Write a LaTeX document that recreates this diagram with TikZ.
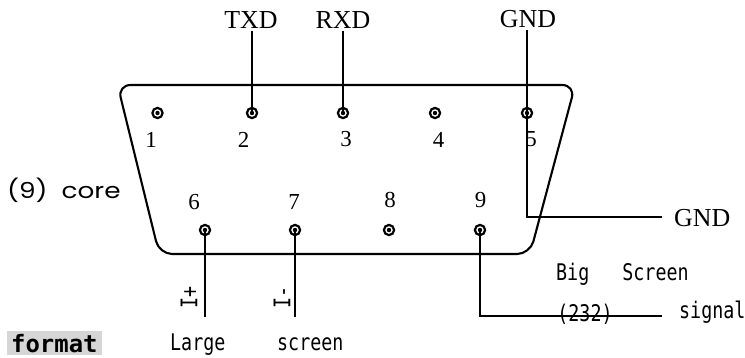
\documentclass[tikz,border=0pt]{standalone}
\usepackage{fontspec}
\setmainfont{Liberation Serif}
\newfontfamily\monof[FakeStretch=0.8]{DejaVu Sans Mono}
\newfontfamily\monoplain{DejaVu Sans Mono}
\newfontfamily\gothic[FakeStretch=1.2]{Poppins}
\begin{document}
\begin{tikzpicture}[x=1bp,y=-1bp,
  outline/.style={line width=2.1bp, rounded corners=13bp},
  wire/.style={line width=2.1bp},
  pinc/.style={circle, draw, line width=2.2bp, minimum size=10.2bp, inner sep=0pt,
    path picture={\fill (path picture bounding box.center) circle (2.2bp);}},
  lbl/.style={font=\fontsize{26}{28}\selectfont, inner sep=2bp},
  num/.style={font=\fontsize{23}{25}\selectfont, inner sep=0pt},
  mono/.style={font=\monof\fontsize{23}{25}\selectfont, inner sep=0pt},
  gothictext/.style={font=\gothic\fontsize{22}{24}\selectfont, inner sep=0pt},
  fmt/.style={font=\monoplain\bfseries\fontsize{24}{26}\selectfont, fill=black!16, inner xsep=4bp, inner ysep=3bp}
]
\useasboundingbox (0,0) rectangle (745,357);

% connector shell
\draw[outline] (117.6,85) -- (575.2,85) -- (530,254) -- (159.2,254) -- cycle;

% pins
\node[pinc] (p1) at (157.5,113) {};
\node[pinc] (p2) at (252,113) {};
\node[pinc] (p3) at (343,113) {};
\node[pinc] (p4) at (435,113) {};
\node[pinc] (p5) at (527,113) {};
\node[pinc] (p6) at (205,230) {};
\node[pinc] (p7) at (295,230) {};
\node[pinc] (p8) at (389,230) {};
\node[pinc] (p9) at (480,230) {};

% pin numbers
\node[num] (n1) at (151,139.5) {1};
\node[num] (n2) at (243.5,139.5) {2};
\node[num] (n3) at (346,139.5) {3};
\node[num] (n4) at (438.5,139.5) {4};
\node[num] (n5) at (531,139.5) {5};
\node[num] (n6) at (194,202) {6};
\node[num] (n7) at (294,202) {7};
\node[num] (n8) at (390,200) {8};
\node[num] (n9) at (480.5,200) {9};

% top labels
\node[lbl] (txd) at (251,20) {TXD};
\node[lbl] (rxd) at (343,20) {RXD};
\node[lbl] (gndt) at (528,19) {GND};
\node[lbl, anchor=base west, inner sep=0pt] (ptop) at (644,-5.5) {p};

% right labels
\node[lbl, anchor=west, inner sep=0pt] (gndr) at (674,218) {GND};
\node[mono, anchor=base west] (big) at (556,280) {Big\ \ \ Screen};
\node[mono] (n232) at (585,314) {(232)};
\node[mono, anchor=base west] (sig) at (679,318) {signal};

% bottom labels
\node[mono, rotate=90] (iplus) at (189,297) {I+};
\node[mono, rotate=90] (iminus) at (282,297) {I-};
\node[mono, anchor=base west] (large) at (170,350) {Large};
\node[mono, anchor=base west] (screen) at (277,350) {screen};
\node[fmt, anchor=base west] (format) at (7,352) {format};

% left label
\node[gothictext, anchor=base west] (core) at (7,198) {(9)~~core};

% wire ends
\coordinate (e5) at (662,217);
\coordinate (e9) at (662,316);
\coordinate (e6) at (205,317);
\coordinate (e7) at (295,317);

% wires
\draw[wire] (txd.south -| p2.center) -- (p2.center);
\draw[wire] (rxd.south -| p3.center) -- (p3.center);
\draw[wire] (gndt.south -| p5.center) -- (p5.center) |- (e5);
\draw[wire] (p6.center) -- (e6);
\draw[wire] (p7.center) -- (e7);
\draw[wire] (p9.center) |- (e9);
\end{tikzpicture}
\end{document}
